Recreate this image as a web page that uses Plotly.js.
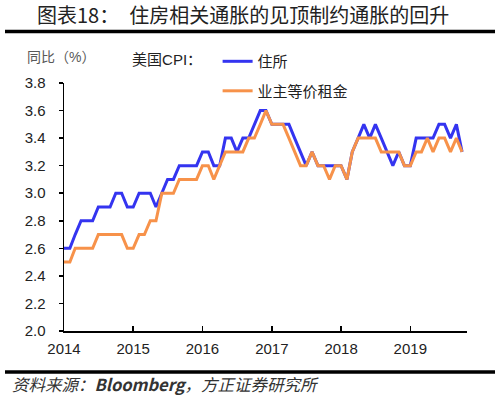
<!DOCTYPE html>
<html>
<head>
<meta charset="utf-8">
<script src="https://cdn.plot.ly/plotly-3.0.1.min.js"></script>
<style>html,body{margin:0;padding:0;background:#fff;}#chart{width:500px;height:399px;}</style>
</head>
<body>
<div id="chart"></div>
<script>
// x categories: monthly, Jan 2014 - Oct 2019
const months = [
  '2014-01-01','2014-02-01','2014-03-01','2014-04-01','2014-05-01','2014-06-01','2014-07-01','2014-08-01','2014-09-01','2014-10-01','2014-11-01','2014-12-01',
  '2015-01-01','2015-02-01','2015-03-01','2015-04-01','2015-05-01','2015-06-01','2015-07-01','2015-08-01','2015-09-01','2015-10-01','2015-11-01','2015-12-01',
  '2016-01-01','2016-02-01','2016-03-01','2016-04-01','2016-05-01','2016-06-01','2016-07-01','2016-08-01','2016-09-01','2016-10-01','2016-11-01','2016-12-01',
  '2017-01-01','2017-02-01','2017-03-01','2017-04-01','2017-05-01','2017-06-01','2017-07-01','2017-08-01','2017-09-01','2017-10-01','2017-11-01','2017-12-01',
  '2018-01-01','2018-02-01','2018-03-01','2018-04-01','2018-05-01','2018-06-01','2018-07-01','2018-08-01','2018-09-01','2018-10-01','2018-11-01','2018-12-01',
  '2019-01-01','2019-02-01','2019-03-01','2019-04-01','2019-05-01','2019-06-01','2019-07-01','2019-08-01','2019-09-01','2019-10-01'
];
// 美国CPI：住所 同比 (%)
const shelter = [
  2.6,2.6,2.7,2.8,2.8,2.8,2.9,2.9,2.9,3.0,3.0,2.9,
  2.9,3.0,3.0,3.0,2.9,3.0,3.1,3.1,3.2,3.2,3.2,3.2,
  3.3,3.3,3.2,3.2,3.4,3.4,3.3,3.4,3.4,3.5,3.6,3.6,
  3.5,3.5,3.5,3.5,3.4,3.3,3.2,3.3,3.2,3.2,3.2,3.2,
  3.2,3.1,3.3,3.4,3.5,3.4,3.5,3.4,3.3,3.2,3.3,3.2,
  3.2,3.4,3.4,3.4,3.4,3.5,3.5,3.4,3.5,3.3
];
// 美国CPI：业主等价租金 同比 (%)
const oer = [
  2.5,2.5,2.6,2.6,2.6,2.6,2.7,2.7,2.7,2.7,2.7,2.6,
  2.6,2.7,2.7,2.8,2.8,3.0,3.0,3.0,3.1,3.1,3.1,3.1,
  3.2,3.2,3.1,3.2,3.3,3.3,3.3,3.3,3.4,3.4,3.5,3.6,
  3.5,3.5,3.5,3.4,3.3,3.2,3.2,3.3,3.2,3.2,3.1,3.2,
  3.2,3.1,3.3,3.4,3.4,3.4,3.4,3.3,3.3,3.3,3.3,3.2,
  3.2,3.3,3.3,3.4,3.3,3.4,3.4,3.3,3.4,3.3
];
const seriesNames = ['住所', '业主等价租金'];
const yearTickVals = ['2014-01-01','2015-01-01','2016-01-01','2017-01-01','2018-01-01','2019-01-01'];
const yearTickText = ['2014','2015','2016','2017','2018','2019'];

const FONT = 'Liberation Sans, Arial, Noto Sans CJK SC, sans-serif';
const CJK = 'Noto Sans CJK SC, Liberation Sans, sans-serif';

const traces = [
  {x: months, y: shelter, name: seriesNames[0], type: 'scatter', mode: 'lines', legendgroup: 'a',
   line: {color: '#3434F0', width: 3}},
  {x: months, y: oer, name: seriesNames[1], type: 'scatter', mode: 'lines', legendgroup: 'b',
   line: {color: '#F7924A', width: 3}}
];

const layout = {
  width: 500, height: 399,
  margin: {l: 64, r: 33, t: 83, b: 68},
  paper_bgcolor: '#fff', plot_bgcolor: '#fff',
  font: {family: FONT, size: 15, color: '#222'},
  showlegend: true,
  legend: {
    x: 0.164, y: 1.153, xanchor: 'left', yanchor: 'top',
    bgcolor: 'rgba(0,0,0,0)',
    title: {text: '美国CPI：\u3000', side: 'left', font: {family: FONT, size: 15, color: '#222'}},
    font: {family: FONT, size: 15, color: '#222'},
    tracegroupgap: 7
  },
  xaxis: {
    type: 'date',
    range: ['2014-01-01', '2019-10-27'],
    tickmode: 'array', tickvals: yearTickVals, ticktext: yearTickText,
    ticks: 'inside', ticklen: 5, tickwidth: 1.5, tickcolor: '#000',
    showline: true, linecolor: '#000', linewidth: 2,
    showgrid: false, zeroline: false,
    tickfont: {family: FONT, size: 15, color: '#222'},
    ticklabelstandoff: 3, fixedrange: true
  },
  yaxis: {
    range: [2.0, 3.8], tick0: 2.0, dtick: 0.2, tickformat: '.1f',
    ticks: 'outside', ticklen: 4, tickwidth: 1.5, tickcolor: '#000',
    showline: true, linecolor: '#000', linewidth: 1.5,
    showgrid: false, zeroline: false,
    tickfont: {family: FONT, size: 15, color: '#222'},
    ticklabelstandoff: 10, fixedrange: true
  },
  shapes: [
    {type: 'line', xref: 'paper', yref: 'paper', x0: -0.1464, x1: 1.0695, y0: 1.2077, y1: 1.2077,
     line: {color: '#000', width: 3.5}},
    {type: 'line', xref: 'paper', yref: 'paper', x0: -0.1464, x1: 1.0695, y0: -0.1653, y1: -0.1653,
     line: {color: '#000', width: 3.5}}
  ],
  annotations: [
    {text: '图表18：\u2002住房相关通胀的见顶制约通胀的回升', xref: 'paper', yref: 'paper',
     x: -0.072, y: 1.278, xanchor: 'left', yanchor: 'middle', showarrow: false,
     font: {family: CJK, size: 20, color: '#222'}},
    {text: '同比（%）', xref: 'paper', yref: 'paper', x: -0.0968, y: 1.105,
     xanchor: 'left', yanchor: 'middle', showarrow: false,
     font: {family: FONT, size: 14, color: '#595959'}},
    {text: '<i>资料来源：<b>Bloomberg</b>，方正证券研究所</i>', xref: 'paper', yref: 'paper',
     x: -0.134, y: -0.2137, xanchor: 'left', yanchor: 'middle', showarrow: false,
     font: {family: CJK, size: 16.5, color: '#333'}}
  ]
};

Plotly.newPlot('chart', traces, layout, {staticPlot: true, displayModeBar: false});
</script>
</body>
</html>
